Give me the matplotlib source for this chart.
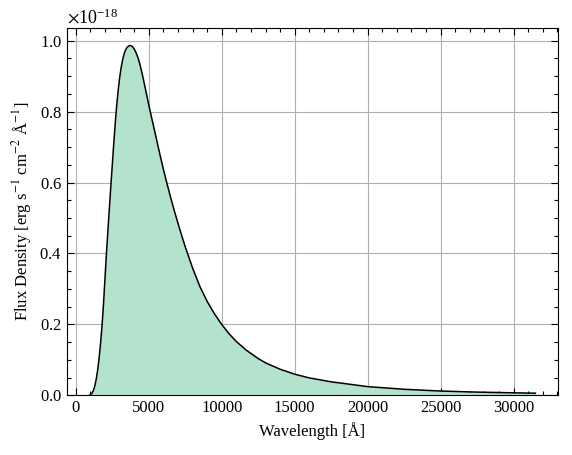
import numpy as np
import matplotlib
matplotlib.use("Agg")
import matplotlib.pyplot as plt
from matplotlib.ticker import MultipleLocator, ScalarFormatter

# wavelength [A] and flux density [1e-18 erg/s/cm2/A]
wavelength = [900, 1000, 1100, 1200, 1300, 1400, 1500, 1600, 1700, 1800,
              1900, 2000, 2100, 2200, 2300, 2400, 2500, 2600, 2700, 2800,
              2900, 3000, 3100, 3200, 3300, 3400, 3500, 3600, 3700, 3800,
              3900, 4000, 4100, 4200, 4300, 4400, 4500, 4600, 4800, 5000,
              5200, 5400, 5600, 5800, 6000, 6225, 6500, 6750, 7000, 7250,
              7520, 8000, 8500, 9000, 9500, 10000, 10500, 11000, 11700,
              12500, 13000, 14000, 15000, 16000, 17500, 20000, 22500,
              25000, 27500, 30000, 31500]
flux = [0.0, 0.002, 0.006, 0.014, 0.027, 0.047, 0.074, 0.108, 0.150, 0.200,
        0.262, 0.333, 0.403, 0.467, 0.530, 0.592, 0.652, 0.712, 0.768, 0.818,
        0.860, 0.895, 0.923, 0.945, 0.961, 0.973, 0.980, 0.984, 0.986, 0.985,
        0.982, 0.976, 0.968, 0.958, 0.946, 0.931, 0.914, 0.896, 0.857, 0.818,
        0.781, 0.745, 0.708, 0.672, 0.637, 0.600, 0.557, 0.520, 0.485, 0.451,
        0.416, 0.359, 0.307, 0.265, 0.230, 0.200, 0.174, 0.152, 0.127,
        0.104, 0.092, 0.074, 0.060, 0.0495, 0.0385, 0.025, 0.0175,
        0.0125, 0.0095, 0.0075, 0.0065]

plt.rcParams['font.family'] = ['Liberation Serif', 'DejaVu Serif']
plt.rcParams['mathtext.fontset'] = 'stix'
plt.rcParams['font.size'] = 12

lam = np.array(wavelength)
f = np.array(flux) * 1e-18

fig = plt.figure(figsize=(5.72, 4.55), dpi=100)
ax = fig.add_axes([0.1166, 0.1308, 0.8584, 0.8077])

ax.fill_between(lam, f, color='#b3e2cd', lw=0)
ax.plot(lam, f, color='black', lw=1.1)

ax.set_ylim(bottom=0)
ax.grid(True, color='#b0b0b0', lw=0.8)
ax.set_axisbelow(True)

ax.xaxis.set_minor_locator(MultipleLocator(1000))
ax.yaxis.set_minor_locator(MultipleLocator(0.05e-18))
fmt = ScalarFormatter(useMathText=True)
ax.yaxis.set_major_formatter(fmt)
ax.yaxis.get_offset_text().set_fontsize(13)

ax.tick_params(which='both', direction='in', top=True, right=True)
ax.tick_params(which='major', length=4.8, width=0.8)
ax.tick_params(which='minor', length=2.9, width=0.8)

ax.set_xlabel('Wavelength [Å]')
ax.set_ylabel(r'Flux Density [erg s$^{-1}$ cm$^{-2}$ Å$^{-1}$]')

fig.savefig('out.png', dpi=100)
